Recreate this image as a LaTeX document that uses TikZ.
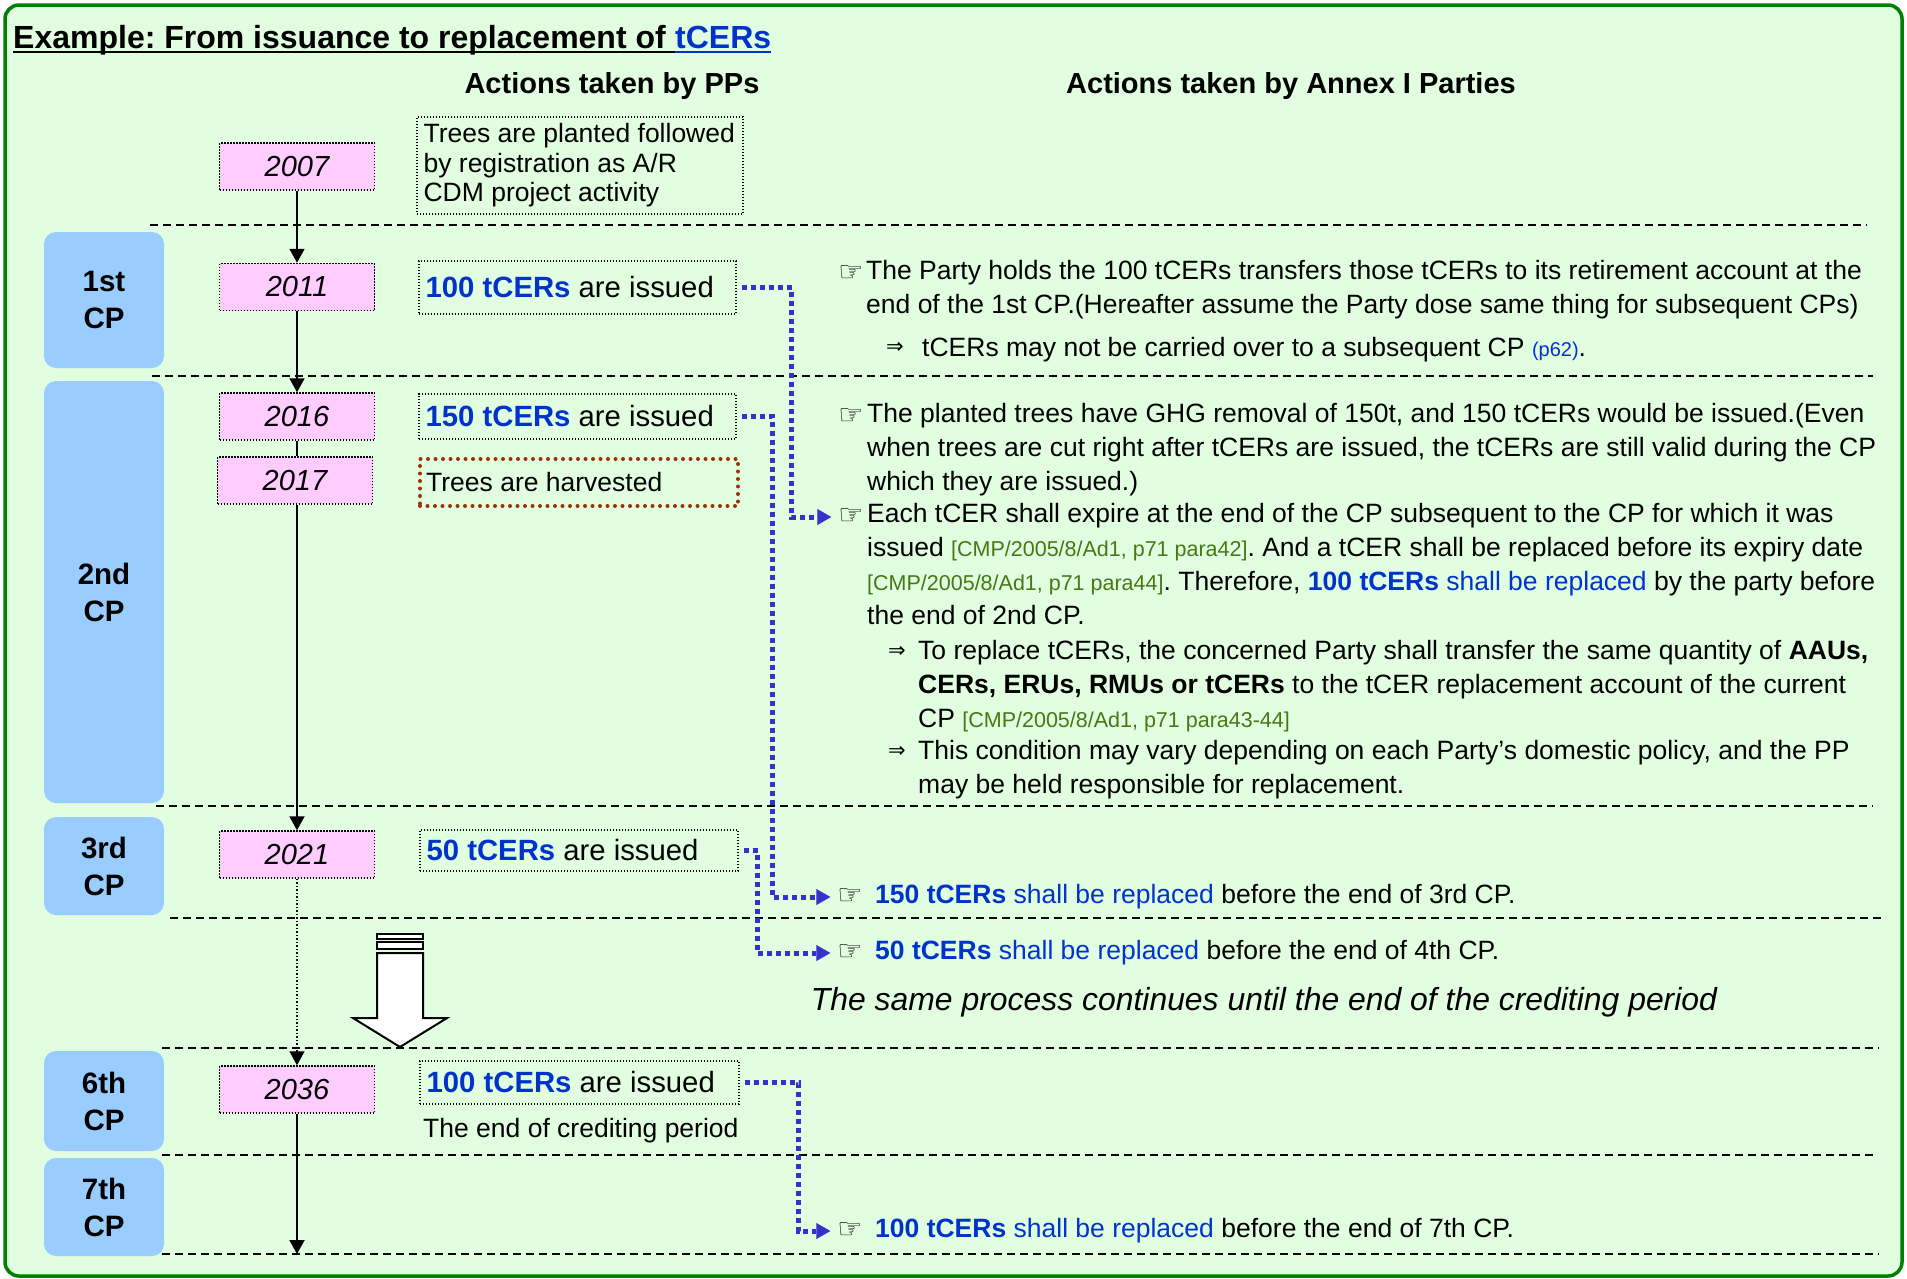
\documentclass[tikz,border=0pt]{standalone}
\usepackage{fontspec}
\setmainfont{Liberation Sans}
\newfontfamily\symfont{DejaVu Sans}
\usetikzlibrary{arrows.meta,positioning}
\frenchspacing

\definecolor{framegreen}{RGB}{0,128,0}
\definecolor{bggreen}{RGB}{226,254,224}
\definecolor{cpblue}{RGB}{153,204,255}
\definecolor{yearpink}{RGB}{255,204,255}
\definecolor{tblue}{RGB}{0,51,204}
\definecolor{linkblue}{RGB}{51,51,204}
\definecolor{refgreen}{RGB}{70,120,20}
\definecolor{harvbrown}{RGB}{153,51,0}

\newcommand\hand{{\symfont\fontsize{28}{28}\selectfont ☞}}
\newcommand\impl{{\symfont\fontsize{21}{21}\selectfont ⇒}}
\newcommand\tcer[1]{\textcolor{tblue}{\bfseries #1}}
\newcommand\repl{\textcolor{tblue}{shall be replaced}}
\newcommand\cmpref[1]{{\fontsize{21.5}{34}\selectfont\color{refgreen}[#1]}}

\tikzset{
  sep/.style={line width=2pt, dash pattern=on 8pt off 5pt},
  cpbox/.style={fill=cpblue, rounded corners=12pt, minimum width=120pt, inner sep=0pt,
    align=center, font=\bfseries\fontsize{29.5}{37}\selectfont},
  yearbox/.style={draw, line width=1.5pt, dash pattern=on 1.5pt off 1.5pt, fill=yearpink,
    minimum width=155pt, minimum height=47pt, inner sep=0pt, font=\itshape\fontsize{29}{34}\selectfont},
  actbox/.style={draw, line width=1.2pt, dash pattern=on 1.2pt off 1.8pt, inner sep=0pt},
  harvbox/.style={draw=harvbrown, line width=4pt, dash pattern=on 0pt off 7.5pt, line cap=round, inner sep=0pt},
  boxtext/.style={inner sep=0pt, align=left, font=\fontsize{29.3}{34}\selectfont},
  timeline/.style={line width=2pt, -{Triangle[length=14pt,width=15pt]}},
  link/.style={draw=linkblue, line width=5pt, dash pattern=on 5pt off 4pt,
    -{Triangle[length=14pt,width=16pt,line width=0.1pt]}, shorten <=5pt, shorten >=7pt},
  para/.style={anchor=north west, inner sep=0pt, align=left, font=\fontsize{26.5}{34}\selectfont,
    execute at begin node=\rule{0pt}{20pt}},
  head/.style={anchor=base, inner sep=0pt, font=\bfseries\fontsize{29}{34}\selectfont}
}

\begin{document}
\begin{tikzpicture}[x=1pt, y=-1pt]
  \useasboundingbox (0,0) rectangle (1907,1278);
  \draw[framegreen, line width=3.5pt, fill=bggreen, rounded corners=14pt] (5,5) rectangle (1902,1276);

  % title and column heads
  \node[anchor=base west, inner sep=0pt, font=\bfseries\fontsize{32}{36}\selectfont] (ttl) at (13,48) {Example: From issuance to replacement of};
  \node[anchor=base west, inner sep=0pt, font=\bfseries\fontsize{32}{36}\selectfont, text=tblue] (ttlc) at ([xshift=8.9pt]ttl.base east) {tCERs};
  \draw[line width=2.2pt] ([yshift=-4pt]ttl.base west) -- ([yshift=-4pt]ttlc.base west);
  \draw[tblue, line width=2.2pt] ([yshift=-4pt]ttlc.base west) -- ([yshift=-4pt]ttlc.base east);
  \node[head] (hpp) at (612,93) {Actions taken by PPs};
  \node[head] (hannex) at (1291,93) {Actions taken by Annex I Parties};

  % period separators
  \draw[sep] (150,225) -- (1867,225);
  \draw[sep] (152,376) -- (1873,376);
  \draw[sep] (156,806) -- (1873,806);
  \draw[sep] (170,918) -- (1883,918);
  \draw[sep] (162,1048) -- (1879,1048);
  \draw[sep] (162,1155) -- (1873,1155);
  \draw[sep] (162,1254) -- (1879,1254);

  % commitment periods
  \node[cpbox, minimum height=136pt] (cp1) at (104,300) {1st\\CP};
  \node[cpbox, minimum height=422pt] (cp2) at (104,592) {2nd\\CP};
  \node[cpbox, minimum height=98pt] (cp3) at (104,866) {3rd\\CP};
  \node[cpbox, minimum height=100pt] (cp6) at (104,1101) {6th\\CP};
  \node[cpbox, minimum height=98pt] (cp7) at (104,1207) {7th\\CP};

  % years
  \node[yearbox] (y2007) at (297,166.5) {2007};
  \node[yearbox] (y2011) at (297,287) {2011};
  \node[yearbox] (y2016) at (297,416.5) {2016};
  \node[yearbox] (y2017) at (295,480.5) {2017};
  \node[yearbox] (y2021) at (297,854.5) {2021};
  \node[yearbox] (y2036) at (297,1089.5) {2036};
  \coordinate (tlend) at (297,1254);

  \draw[timeline] (y2007) -- (y2011);
  \draw[timeline] (y2011) -- (y2016);
  \draw[line width=2pt] (y2016) -- (y2016.south |- y2017.north);
  \draw[timeline] (y2017.south -| y2021.north) -- (y2021);
  \draw[timeline, line width=1.3pt, dash pattern=on 1.5pt off 2pt] (y2021) -- (y2036);
  \draw[timeline] (y2036) -- (tlend);

  % actions taken by PPs
  \node[actbox, minimum width=326pt, minimum height=97pt] (bplant) at (580,165.5) {};
  \node[boxtext, right=7pt of bplant.west, font=\fontsize{26.5}{29.5}\selectfont] (tplant) {Trees are planted followed\\by registration as A/R\\CDM project activity};
  \node[actbox, minimum width=317pt, minimum height=53pt] (b11) at (577.5,287.5) {};
  \node[boxtext, right=7pt of b11.west] (t11) {\tcer{100 tCERs} are issued};
  \node[actbox, minimum width=317pt, minimum height=45pt] (b16) at (577.5,416.5) {};
  \node[boxtext, right=7pt of b16.west] (t16) {\tcer{150 tCERs} are issued};
  \node[harvbox, minimum width=318pt, minimum height=47pt] (bharv) at (579,482.5) {};
  \node[boxtext, right=8pt of bharv.west, font=\fontsize{26.5}{30}\selectfont] (tharv) {Trees are harvested};
  \node[actbox, minimum width=318pt, minimum height=41pt] (b21) at (579,850.5) {};
  \node[boxtext, right=7pt of b21.west] (t21) {\tcer{50 tCERs} are issued};
  \node[actbox, minimum width=319pt, minimum height=43pt] (b36) at (579.5,1082.5) {};
  \node[boxtext, right=7pt of b36.west] (t36) {\tcer{100 tCERs} are issued};
  \node[anchor=base west, inner sep=0pt, font=\fontsize{26.5}{30}\selectfont] (tend) at (423,1137) {The end of crediting period};

  % the same process goes on
  \draw[line width=2pt, fill=white] (377,953) -- (423,953) -- (423,1018) -- (447,1018) -- (400,1047) -- (353,1018) -- (377,1018) -- cycle;
  \draw[line width=1.5pt, fill=white] (377,934) rectangle (423,939);
  \draw[line width=1.5pt, fill=white] (377,942) rectangle (423,949);

  % actions taken by Annex I Parties
  \node[inner sep=0pt] (hA) at (851,274) {\hand};
  \node[para] (pA) at (866,260) {The Party holds the 100 tCERs transfers those tCERs to its retirement account at the\\end of the 1st CP.(Hereafter assume the Party dose same thing for subsequent CPs)};
  \node[inner sep=0pt] (iA) at (895,348) {\impl};
  \node[para] (pA2) at (922,336) {tCERs may not be carried over to a subsequent CP {\fontsize{20}{34}\selectfont\textcolor{tblue}{(p62)}}.};

  \node[inner sep=0pt] (hB) at (851,417) {\hand};
  \node[para] (pB) at (867,403) {The planted trees have GHG removal of 150t, and 150 tCERs would be issued.(Even\\when trees are cut right after tCERs are issued, the tCERs are still valid during the CP\\which they are issued.)};

  \node[inner sep=0pt] (hC) at (851,517) {\hand};
  \node[para] (pC) at (867,503) {Each tCER shall expire at the end of the CP subsequent to the CP for which it was\\issued \cmpref{CMP/2005/8/Ad1, p71 para42}. And a tCER shall be replaced before its expiry date\\\cmpref{CMP/2005/8/Ad1, p71 para44}. Therefore, \tcer{100 tCERs} \repl{} by the party before\\the end of 2nd CP.};
  \node[inner sep=0pt] (iC1) at (897,652) {\impl};
  \node[para] (pC1) at (918,640) {To replace tCERs, the concerned Party shall transfer the same quantity of \textbf{AAUs,}\\\textbf{CERs, ERUs, RMUs or tCERs} to the tCER replacement account of the current\\CP \cmpref{CMP/2005/8/Ad1, p71 para43-44}};
  \node[inner sep=0pt] (iC2) at (897,752) {\impl};
  \node[para] (pC2) at (918,740) {This condition may vary depending on each Party’s domestic policy, and the PP\\may be held responsible for replacement.};

  \node[inner sep=0pt] (hD) at (850,897) {\hand};
  \node[para] (pD) at (875,883) {\tcer{150 tCERs} \repl{} before the end of 3rd CP.};
  \node[inner sep=0pt] (hE) at (850,953) {\hand};
  \node[para] (pE) at (875,939) {\tcer{50 tCERs} \repl{} before the end of 4th CP.};
  \node[anchor=base, inner sep=0pt, font=\itshape\fontsize{31.9}{36}\selectfont] (cont) at (1264,1010) {The same process continues until the end of the crediting period};
  \node[inner sep=0pt] (hG) at (850,1231) {\hand};
  \node[para] (pG) at (875,1217) {\tcer{100 tCERs} \repl{} before the end of 7th CP.};

  % tCERs to be replaced
  \draw[link] (b11.east) -- ++(55,0) |- (hC);
  \draw[link] (b16.east) -- ++(36,0) |- (hD);
  \draw[link] (b21.east) -- ++(19,0) |- (hE);
  \draw[link] (b36.east) -- ++(59,0) |- (hG);
\end{tikzpicture}
\end{document}
